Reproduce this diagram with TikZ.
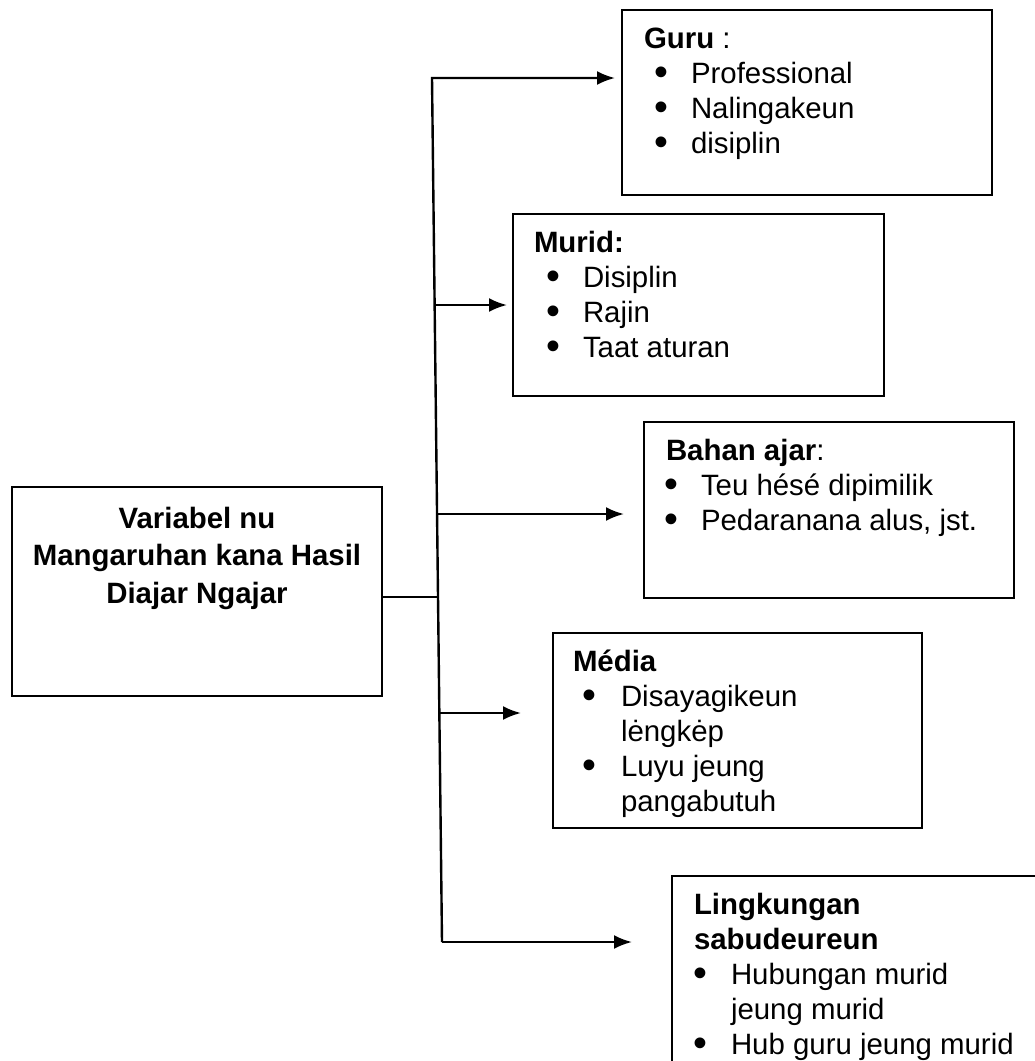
\documentclass[tikz,border=0pt]{standalone}
\usepackage{fontspec}
\setmainfont{Liberation Sans}
\usetikzlibrary{arrows.meta}

\newcommand{\judul}[2]{\rule{0pt}{38pt}\hspace*{#1}#2\par}
\newcommand{\butir}[3]{\hspace*{#1}\makebox[0pt]{\raisebox{-0.08em}{\scalebox{1.35}{\textbullet}}}\hspace*{\dimexpr#2-#1\relax}#3\par}
\newcommand{\terus}[2]{\hspace*{#1}#2\par}
\newcommand{\isi}[3]{\parbox[t][#1][t]{#2}{\fontsize{29.4pt}{35pt}\selectfont #3}}

\begin{document}
\begin{tikzpicture}[x=1pt,y=-1pt,>={Latex[length=18pt,width=14pt]},
    kotak/.style={draw,line width=2pt,anchor=north west,inner sep=0pt},
    garis/.style={line width=2.4pt}]
        \useasboundingbox (0,0) rectangle (1035,1061);
        \clip (0,0) rectangle (1035,1061);

        \node[kotak] (variabel) at (11,486) {\parbox[t][209pt][t]{370pt}{\centering\fontsize{29.4pt}{37.5pt}\selectfont\bfseries
            \rule{0pt}{41pt}Variabel nu\\Mangaruhan kana Hasil\\Diajar Ngajar}};

        \node[kotak] (guru) at (621,9) {\isi{185pt}{370pt}{%
            \judul{22pt}{\textbf{Guru} :}%
            \butir{39pt}{69pt}{Professional}%
            \butir{39pt}{69pt}{Nalingakeun}%
            \butir{39pt}{69pt}{disiplin}}};
        \node[kotak] (murid) at (512,213) {\isi{182pt}{371pt}{%
            \judul{21pt}{\textbf{Murid:}}%
            \butir{40pt}{70pt}{Disiplin}%
            \butir{40pt}{70pt}{Rajin}%
            \butir{40pt}{70pt}{Taat aturan}}};
        \node[kotak] (bahan) at (643,421) {\isi{176pt}{370pt}{%
            \judul{22pt}{\textbf{Bahan ajar}:}%
            \butir{27pt}{57pt}{Teu hésé dipimilik}%
            \butir{27pt}{57pt}{Pedaranana alus, jst.}}};
        \node[kotak] (media) at (552,632) {\isi{195pt}{369pt}{%
            \judul{20pt}{\textbf{Média}}%
            \butir{36pt}{68pt}{Disayagikeun}%
            \terus{68pt}{lėngkėp}%
            \butir{36pt}{68pt}{Luyu jeung}%
            \terus{68pt}{pangabutuh}}};
        \node[kotak] (lingkungan) at (671,875) {\isi{230pt}{370pt}{%
            \judul{22pt}{\textbf{Lingkungan}}%
            \terus{22pt}{\textbf{sabudeureun}}%
            \butir{28pt}{59pt}{Hubungan murid}%
            \terus{59pt}{jeung murid}%
            \butir{28pt}{59pt}{Hub guru jeung murid}}};

        \coordinate (puncak) at (432,78);
        \coordinate (dasar) at (442,942);
        \coordinate (jMurid) at (434,305);
        \coordinate (jBahan) at (438,514);
        \coordinate (jVariabel) at (438,597);
        \coordinate (jMedia) at (440,713);

        \draw[garis,->,shorten >=6pt] (dasar) -- (puncak) -- (puncak -| guru.west);
        \draw[garis,->,shorten >=5pt] (jMurid) -- (jMurid -| murid.west);
        \draw[garis,->,shorten >=19pt] (jBahan) -- (jBahan -| bahan.west);
        \draw[garis] (jVariabel -| variabel.east) -- (jVariabel);
        \draw[garis,->,shorten >=31pt] (jMedia) -- (jMedia -| media.west);
        \draw[garis,->,shorten >=39pt] (dasar) -- (dasar -| lingkungan.west);
\end{tikzpicture}
\end{document}
